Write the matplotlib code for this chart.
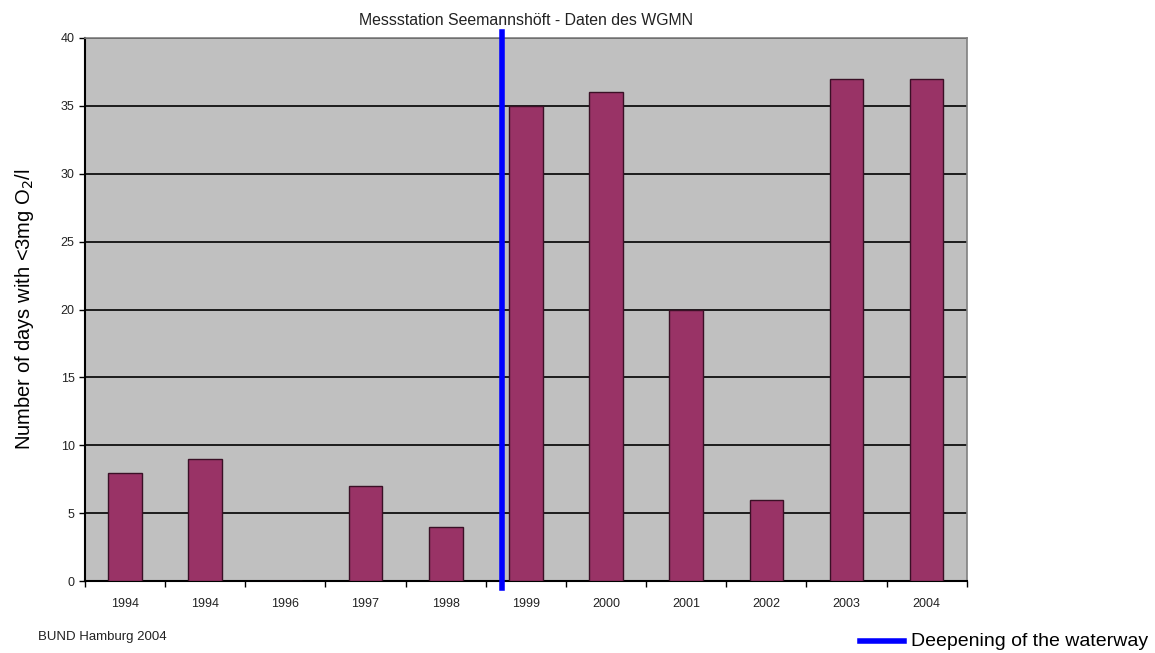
import matplotlib.pyplot as plt
import numpy as np

plt.rcParams['font.family'] = ['Liberation Sans', 'DejaVu Sans']

years = ['1994', '1994', '1996', '1997', '1998', '1999', '2000', '2001', '2002', '2003', '2004']
days = [8, 9, 0, 7, 4, 35, 36, 20, 6, 37, 37]
deepening_pos = 4.7  # between 1998 and 1999

fig = plt.figure(figsize=(11.55, 6.53), dpi=100)
ax = fig.add_axes([0.0736, 0.110, 0.7634, 0.832])
ax.set_facecolor('#c0c0c0')

x = np.arange(len(years))
ax.bar(x, days, width=0.42, color='#993366', edgecolor='#3a1026', linewidth=1, zorder=3)

# horizontal grid
ax.set_ylim(0, 40)
ax.set_yticks(range(0, 41, 5))
ax.yaxis.grid(True, color='black', linewidth=1.2, zorder=1)
ax.set_axisbelow(True)

ax.set_xlim(-0.5, len(years) - 0.5)
ax.set_xticks(np.arange(-0.5, len(years), 1))
ax.set_xticklabels([])
ax.set_xticks(x, minor=True)
ax.set_xticklabels(years, minor=True)
ax.tick_params(axis='x', which='minor', length=0, pad=12, labelsize=9, labelcolor='#222222')
ax.tick_params(axis='x', which='major', length=4, direction='out', width=1)
ax.tick_params(axis='y', length=4, width=1, labelsize=9, labelcolor='#222222')

for s in ['left', 'bottom']:
    ax.spines[s].set_color('black')
    ax.spines[s].set_linewidth(1.5)
for s in ['top', 'right']:
    ax.spines[s].set_color('#808080')
    ax.spines[s].set_linewidth(1.2)

ax.plot([deepening_pos, deepening_pos], [-0.5, 40.4], color='#0000ff', linewidth=4,
        clip_on=False, zorder=5)

ax.set_title('Messstation Seemannshöft - Daten des WGMN', fontsize=11.4, pad=9, color='#222222')
ax.set_ylabel('Number of days with <3mg O$_2$/l', fontsize=14.5, labelpad=18)

fig.text(0.033, 0.02, 'BUND Hamburg 2004', fontsize=9.5, color='#222222')
fig.lines.append(plt.Line2D([0.745, 0.783], [0.019, 0.019], transform=fig.transFigure,
                            color='#0000ff', linewidth=4))
fig.text(0.789, 0.017, 'Deepening of the waterway', fontsize=14, color='black', va='center')

fig.savefig('out.png', dpi=100)
